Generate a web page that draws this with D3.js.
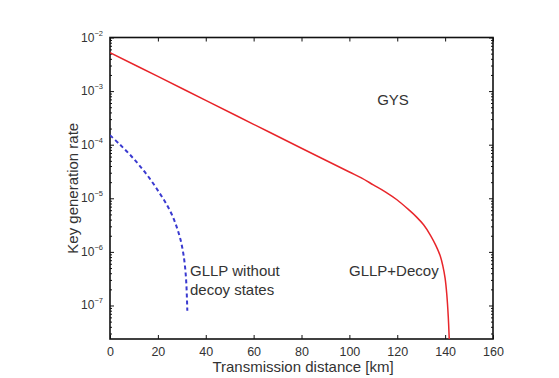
<!DOCTYPE html>
<html><head><meta charset="utf-8">
<script src="https://cdn.jsdelivr.net/npm/d3@7"></script>
<style>body{margin:0;background:#fff;} text{font-family:"Liberation Sans",Arial,sans-serif;fill:#333;}</style>
</head><body>
<svg id="c" width="559" height="378"></svg>
<script>
const decoyX = [0, 20, 40, 60, 80, 100, 105, 110, 115, 120, 125, 128, 131, 134, 136, 138, 139, 140, 140.7, 141.3, 141.7, 142];
const decoyY = [5.2e-3, 1.88e-3, 6.7e-4, 2.4e-4, 8.6e-5, 3.1e-5, 2.4e-5, 1.78e-5, 1.32e-5, 9.3e-6, 6.0e-6, 4.5e-6, 3.2e-6, 2.0e-6, 1.35e-6, 8.3e-7, 5.6e-7, 3.2e-7, 1.6e-7, 6.3e-8, 2.5e-8, 1e-8];
const noDecoyX = [0, 4, 8.35, 12.5, 16.7, 20.5, 23.5, 26, 28, 29.5, 30.6, 31.4, 31.9, 32.3];
const noDecoyY = [1.5e-4, 1.02e-4, 6.5e-5, 4.0e-5, 2.3e-5, 1.29e-5, 7.9e-6, 4.8e-6, 2.8e-6, 1.66e-6, 9.5e-7, 5.0e-7, 2.5e-7, 8e-8];
const xTicks = [0, 20, 40, 60, 80, 100, 120, 140, 160];
const yTickExp = [-2, -3, -4, -5, -6, -7];

const svg = d3.select("#c");
const L = 110, R = 493, T = 37.5, B = 339;
const x = d3.scaleLinear().domain([0, 160]).range([L, R]);
const y = d3.scaleLog().domain([2.37e-8, 1e-2]).range([B, T]);

const defs = svg.append("defs");
defs.append("clipPath").attr("id", "clip").append("rect")
  .attr("x", L).attr("y", T).attr("width", R - L).attr("height", B - T);

// axes
const xb = svg.append("g").attr("transform", `translate(0,${B})`)
  .call(d3.axisBottom(x).tickValues(xTicks).tickSize(-4).tickPadding(8).tickFormat(d3.format("d")));
svg.append("g").attr("transform", `translate(0,${T})`)
  .call(d3.axisTop(x).tickValues(xTicks).tickSize(-4).tickFormat(""));
const minor = [];
for (let e = -8; e < -2; e++) for (let m = 2; m <= 9; m++) { const v = m * Math.pow(10, e); if (v >= 2.37e-8 && v < 1e-2) minor.push(v); }
svg.append("g").attr("transform", `translate(${L},0)`)
  .call(d3.axisLeft(y).tickValues(yTickExp.map(e => Math.pow(10, e))).tickSize(-4).tickFormat(""));
svg.append("g").attr("transform", `translate(${L},0)`)
  .call(d3.axisLeft(y).tickValues(minor).tickSize(-2).tickFormat(""));
svg.append("g").attr("transform", `translate(${R},0)`)
  .call(d3.axisRight(y).tickValues(yTickExp.map(e => Math.pow(10, e))).tickSize(-4).tickFormat(""));
svg.append("g").attr("transform", `translate(${R},0)`)
  .call(d3.axisRight(y).tickValues(minor).tickSize(-2).tickFormat(""));
svg.selectAll(".domain").remove();
svg.selectAll(".tick line").attr("stroke", "#111").attr("stroke-width", 1);
xb.selectAll("text").attr("font-size", 12.5).attr("fill", "#444").style("font-family", "Liberation Sans, Arial, sans-serif");

// y labels 10^e
yTickExp.forEach(e => {
  const t = svg.append("text").attr("x", 103).attr("y", y(Math.pow(10, e)) + 4)
    .attr("text-anchor", "end").attr("font-size", 12).attr("fill", "#444");
  t.append("tspan").text("10");
  t.append("tspan").attr("dy", -6).attr("font-size", 7.5).text("\u2212" + Math.abs(e));
});

// frame
svg.append("rect").attr("x", L).attr("y", T).attr("width", R - L).attr("height", B - T)
  .attr("fill", "none").attr("stroke", "#111").attr("stroke-width", 1.6);

const line = d3.line().x(d => x(d[0])).y(d => y(d[1])).curve(d3.curveCatmullRom.alpha(0.5));
const g = svg.append("g").attr("clip-path", "url(#clip)");
g.append("path").datum(decoyX.map((v, i) => [v, decoyY[i]]))
  .attr("d", line).attr("fill", "none").attr("stroke", "#e8262b").attr("stroke-width", 1.5);
g.append("path").datum(noDecoyX.map((v, i) => [v, noDecoyY[i]]))
  .attr("d", line).attr("fill", "none").attr("stroke", "#3a3ad0").attr("stroke-width", 2)
  .attr("stroke-dasharray", "4,3");

// annotations
svg.append("text").attr("x", 393).attr("y", 105).attr("text-anchor", "middle").attr("font-size", 15).text("GYS");
svg.append("text").attr("x", 190).attr("y", 276).attr("font-size", 15).text("GLLP without");
svg.append("text").attr("x", 190).attr("y", 295).attr("font-size", 15).text("decoy states");
svg.append("text").attr("x", 349).attr("y", 276).attr("font-size", 15).text("GLLP+Decoy");

svg.append("text").attr("x", 303).attr("y", 372).attr("text-anchor", "middle").attr("font-size", 15).text("Transmission distance [km]");
svg.append("text").attr("transform", `translate(78,${(T + B) / 2}) rotate(-90)`).attr("text-anchor", "middle").attr("font-size", 15).text("Key generation rate");
</script>
</body></html>
